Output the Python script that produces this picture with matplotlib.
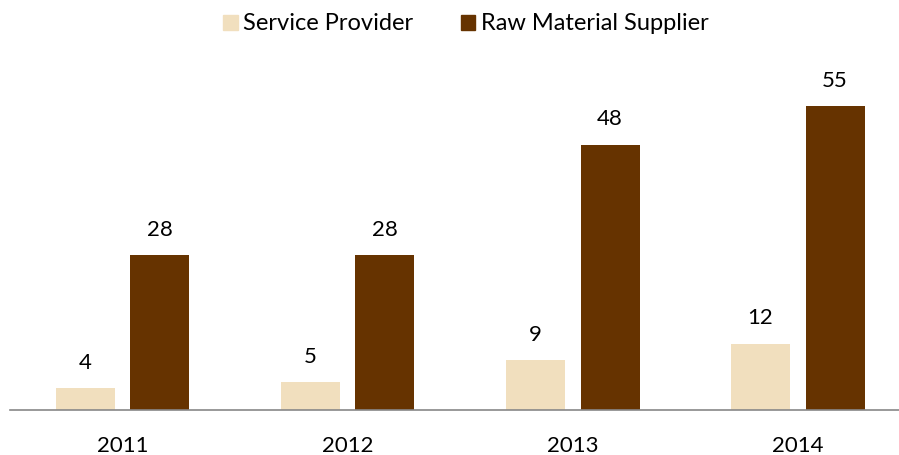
import numpy as np
import matplotlib.pyplot as plt
from matplotlib.patches import Patch

years = ["2011", "2012", "2013", "2014"]
service_provider = [4, 5, 9, 12]
raw_material = [28, 28, 48, 55]

plt.rcParams['font.family'] = ['Lato', 'DejaVu Sans']

fig = plt.figure(figsize=(8.99, 4.55), dpi=100)
ax = fig.add_axes([10 / 899, 45 / 455, 1 - 10 / 899, 360 / 455])

x = np.arange(len(years))
w = 0.262
off = 0.166
b1 = ax.bar(x - off, service_provider, w, color='#F1DFBE', label='Service Provider')
b2 = ax.bar(x + off, raw_material, w, color='#663300', label='Raw Material Supplier')

for bars in (b1, b2):
    for rect in bars:
        h = rect.get_height()
        ax.annotate(f"{h:g}", (rect.get_x() + rect.get_width() / 2, h),
                    xytext=(0, 11), textcoords='offset points',
                    ha='center', va='bottom', fontsize=16)

ax.set_xlim(-0.5, 3.45)
ax.set_ylim(0, 65.1)
ax.set_xticks(x)
ax.set_xticklabels(years, fontsize=16)
ax.tick_params(axis='x', length=0, pad=19)
ax.set_yticks([])
for s in ['top', 'right', 'left']:
    ax.spines[s].set_visible(False)
ax.spines['bottom'].set_color('#888888')
ax.spines['bottom'].set_linewidth(1.2)

handles = [Patch(color='#F1DFBE'), Patch(color='#663300')]
fig.legend(handles, ['Service Provider', 'Raw Material Supplier'],
           loc='center', bbox_to_anchor=(466 / 899, 1 - 24 / 455), ncol=2,
           frameon=False, fontsize=17, handlelength=0.6, handleheight=0.6,
           handletextpad=0.25, columnspacing=2.0)

fig.savefig('out.png', dpi=100)
